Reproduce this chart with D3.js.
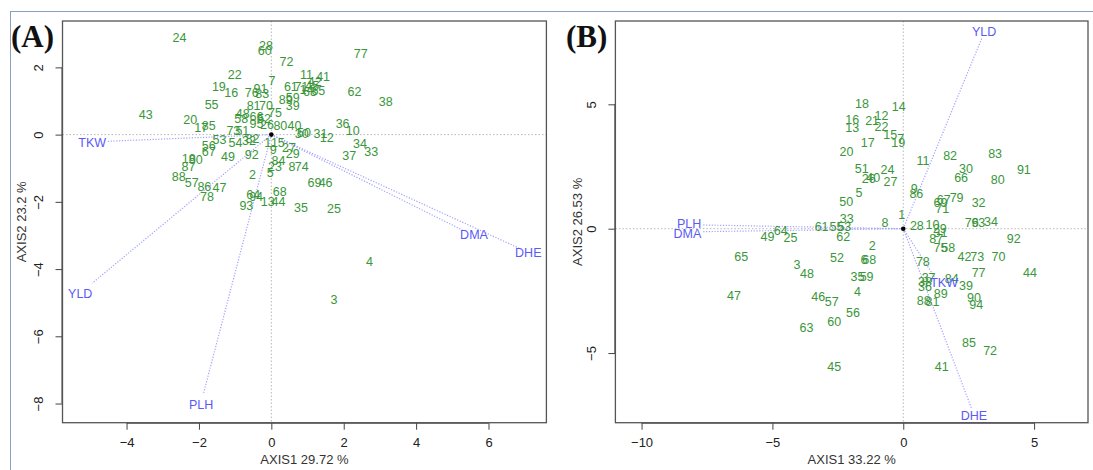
<!DOCTYPE html>
<html><head><meta charset="utf-8">
<script src="https://cdn.jsdelivr.net/npm/d3@7"></script>
<style>body{margin:0;background:#fff}svg{display:block}</style>
</head><body>
<svg id="chart" width="1093" height="470"></svg>
<script>
// ---------- Panel A data ----------
const genoA = ["24","28","60","72","77","22","11","41","7","19","16","76","91","83","61","71","14","42","45","63","65","62","38","55","81","70","89","59","39","75","43","20","17","85","48","58","66","52","95","26","80","40","36","10","30","50","31","12","34","33","37","73","51","53","54","82","32","56","67","49","92","18","90","87","88","57","86","47","78","2","1","15","9","27","29","84","23","5","8","74","69","46","68","64","94","93","13","44","35","25","4","3"];
const axis1A = [-2.54,-0.15,-0.18,0.42,2.47,-1.01,0.97,1.43,0.02,-1.45,-1.11,-0.54,-0.30,-0.25,0.54,0.83,0.97,1.20,1.13,1.07,1.30,2.30,3.16,-1.65,-0.49,-0.15,0.40,0.59,0.59,0.10,-3.47,-2.24,-1.94,-1.73,-0.79,-0.83,-0.41,-0.20,-0.41,-0.12,0.25,0.64,1.97,2.25,0.84,0.90,1.36,1.53,2.45,2.76,2.15,-1.05,-0.80,-1.43,-0.99,-0.52,-0.62,-1.73,-1.73,-1.20,-0.54,-2.28,-2.09,-2.29,-2.56,-2.20,-1.85,-1.43,-1.78,-0.52,-0.10,0.18,0.05,0.49,0.59,0.20,0.10,-0.03,0.57,0.84,1.19,1.50,0.23,-0.50,-0.42,-0.69,-0.10,0.20,0.82,1.73,2.71,1.73];
const axis2A = [2.87,2.64,2.49,2.17,2.40,1.77,1.76,1.71,1.60,1.41,1.23,1.25,1.36,1.21,1.43,1.42,1.32,1.57,1.45,1.26,1.30,1.26,0.97,0.88,0.86,0.86,1.03,1.08,0.85,0.64,0.59,0.44,0.20,0.27,0.62,0.46,0.51,0.46,0.32,0.29,0.26,0.26,0.31,0.11,0.02,0.05,0.02,-0.09,-0.29,-0.51,-0.63,0.10,0.10,-0.16,-0.26,-0.14,-0.20,-0.34,-0.51,-0.68,-0.62,-0.72,-0.76,-0.95,-1.25,-1.43,-1.57,-1.60,-1.87,-1.20,-0.24,-0.26,-0.46,-0.41,-0.57,-0.78,-0.95,-1.15,-0.95,-0.95,-1.43,-1.43,-1.70,-1.80,-1.85,-2.12,-1.99,-1.99,-2.17,-2.22,-3.78,-4.92];
const traitsA = ["TKW","YLD","PLH","DMA","DHE"];
const vecXA = [-4.55,-4.95,-1.87,5.30,6.85];
const vecYA = [-0.20,-4.42,-7.68,-2.85,-3.38];
const labXA = [-4.95,-5.28,-1.94,5.60,7.10];
const labYA = [-0.24,-4.74,-8.05,-2.99,-3.51];
const ticksXA = [-4,-2,0,2,4,6];
const ticksYA = [-8,-6,-4,-2,0,2];
const limXA = [-5.77,7.60];
const limYA = [-8.57,3.38];

// ---------- Panel B data ----------
const genoB = ["18","14","12","21","16","13","22","15","19","7","17","20","11","82","83","30","91","66","80","51","24","26","40","27","5","50","9","86","67","79","69","71","32","1","8","28","10","29","31","87","75","58","76","93","34","92","42","73","70","44","78","77","37","38","36","84","39","89","88","81","90","94","85","72","41","45","63","60","56","46","57","4","35","59","48","3","52","6","68","2","47","65","49","64","25","61","55","53","33","62"];
const axis1B = [-1.58,-0.17,-0.83,-1.19,-1.95,-1.95,-0.83,-0.50,-0.19,-0.10,-1.36,-2.17,0.75,1.79,3.51,2.40,4.61,2.21,3.61,-1.59,-0.60,-1.32,-1.15,-0.49,-1.69,-2.18,0.42,0.50,1.55,2.04,1.42,1.49,2.88,-0.06,-0.70,0.52,1.12,1.40,1.42,1.26,1.42,1.72,2.62,2.87,3.35,4.22,2.34,2.83,3.64,4.84,0.75,2.88,0.97,0.83,0.83,1.85,2.40,1.43,0.78,1.12,2.70,2.79,2.51,3.32,1.47,-2.64,-3.70,-2.64,-1.92,-3.25,-2.73,-1.75,-1.75,-1.40,-3.68,-4.06,-2.53,-1.50,-1.30,-1.19,-6.47,-6.19,-5.19,-4.68,-4.31,-3.12,-2.55,-2.25,-2.16,-2.29];
const axis2B = [5.01,4.88,4.53,4.34,4.37,4.03,4.10,3.77,3.46,3.59,3.43,3.10,2.71,2.94,3.00,2.41,2.36,2.02,1.96,2.39,2.35,1.98,2.02,1.89,1.42,1.09,1.60,1.41,1.16,1.22,1.02,0.80,1.05,0.55,0.24,0.11,0.15,-0.03,-0.17,-0.42,-0.79,-0.79,0.24,0.22,0.28,-0.43,-1.15,-1.15,-1.15,-1.77,-1.35,-1.77,-1.97,-2.15,-2.33,-2.02,-2.31,-2.63,-2.89,-2.93,-2.80,-3.07,-4.61,-4.91,-5.55,-5.55,-4.01,-3.74,-3.40,-2.73,-2.96,-2.53,-1.93,-1.93,-1.82,-1.46,-1.17,-1.26,-1.26,-0.70,-2.71,-1.13,-0.32,-0.09,-0.39,0.08,0.07,0.05,0.40,-0.32];
const traitsB = ["PLH","DMA","YLD","DHE","TKW"];
const vecXB = [-7.66,-7.66,3.00,2.60,1.20];
const vecYB = [0.15,-0.12,7.65,-7.20,-1.95];
const labXB = [-8.18,-8.25,3.09,2.70,1.56];
const labYB = [0.19,-0.22,7.90,-7.53,-2.20];
const ticksXB = [-10,-5,0,5];
const ticksYB = [-5,0,5];
const limXB = [-11.0,7.06];
const limYB = [-7.8,8.35];

// ---------- drawing ----------
const svg = d3.select("#chart");
const FONT = "'Liberation Sans', Arial, sans-serif";
const GREEN = "#3a963a";
const BLUE = "#5a5af5";
const VEC = "#a0a0ff";

// figure frame lines
svg.append("line").attr("x1",10).attr("x2",1093).attr("y1",11.5).attr("y2",11.5).attr("stroke","#8aa0c0").attr("stroke-width",1);
svg.append("line").attr("x1",10.5).attr("x2",10.5).attr("y1",11).attr("y2",470).attr("stroke","#8aa0c0").attr("stroke-width",1);

function panel(o){
  const g = svg.append("g");
  const x = d3.scaleLinear().domain(o.limX).range([o.left,o.right]);
  const y = d3.scaleLinear().domain(o.limY).range([o.bottom,o.top]);
  // zero reference lines
  g.append("line").attr("x1",x(0)).attr("x2",x(0)).attr("y1",o.top).attr("y2",o.bottom)
    .attr("stroke","#b8b8b8").attr("stroke-dasharray","1.5,2").attr("stroke-width",1);
  g.append("line").attr("x1",o.left).attr("x2",o.right).attr("y1",y(0)).attr("y2",y(0))
    .attr("stroke","#b8b8b8").attr("stroke-dasharray","1.5,2").attr("stroke-width",1);
  // axes
  const ax = d3.axisBottom(x).tickValues(o.ticksX).tickSize(7).tickPadding(6).tickFormat(d=>d<0?"\u2212"+Math.abs(d):d);
  const gx = g.append("g").attr("transform",`translate(0,${o.bottom})`).call(ax);
  gx.select(".domain").attr("d",`M${x(o.ticksX[0])},0.5H${x(o.ticksX[o.ticksX.length-1])}`).attr("stroke","#444");
  gx.selectAll(".tick line").attr("stroke","#444");
  gx.selectAll(".tick text").attr("font-family",FONT).attr("font-size",13).attr("fill","#222").attr("dy","0.9em");
  const ay = d3.axisLeft(y).tickValues(o.ticksY).tickSize(7).tickPadding(0).tickFormat(d=>d<0?"\u2212"+Math.abs(d):d);
  const gy = g.append("g").attr("transform",`translate(${o.left},0)`).call(ay);
  gy.select(".domain").attr("d",`M-0.5,${y(o.ticksY[0])}V${y(o.ticksY[o.ticksY.length-1])}`).attr("stroke","#444");
  gy.selectAll(".tick line").attr("stroke","#444");
  gy.selectAll(".tick text").attr("font-family",FONT).attr("font-size",13).attr("fill","#222")
    .attr("x",null).attr("dy",null).attr("text-anchor","middle")
    .attr("transform","translate(-24,0) rotate(-90)").attr("dominant-baseline","central");
  // box
  g.append("rect").attr("x",o.left).attr("y",o.top).attr("width",o.right-o.left).attr("height",o.bottom-o.top)
    .attr("fill","none").attr("stroke","#555").attr("stroke-width",1.3);
  // axis titles
  g.append("text").attr("x",(o.left+o.right)/2).attr("y",o.bottom+41).attr("text-anchor","middle")
    .attr("font-family",FONT).attr("font-size",13).attr("fill","#333").text(o.xTitle);
  g.append("text").attr("transform",`translate(${o.left-o.yTitleOff},${(o.top+o.bottom)/2}) rotate(-90)`)
    .attr("text-anchor","middle").attr("dominant-baseline","central")
    .attr("font-family",FONT).attr("font-size",13).attr("fill","#333").text(o.yTitle);
  // trait vectors
  o.traits.forEach((t,i)=>{
    g.append("line").attr("x1",x(0)).attr("y1",y(0)).attr("x2",x(o.vx[i])).attr("y2",y(o.vy[i]))
      .attr("stroke",VEC).attr("stroke-width",1.2).attr("stroke-dasharray","1.2,1.6");
  });
  // genotype labels
  g.selectAll("text.geno").data(o.geno).enter().append("text").attr("class","geno")
    .attr("x",(d,i)=>x(o.gx[i])).attr("y",(d,i)=>y(o.gy[i]))
    .attr("text-anchor","middle").attr("dominant-baseline","central")
    .attr("font-family",FONT).attr("font-size",12.5).attr("fill",GREEN).text(d=>d);
  // trait labels
  o.traits.forEach((t,i)=>{
    g.append("text").attr("x",x(o.lx[i])).attr("y",y(o.ly[i])).attr("text-anchor","middle")
      .attr("dominant-baseline","central").attr("font-family",FONT).attr("font-size",12.5)
      .attr("fill",BLUE).text(t);
  });
  // origin dot
  g.append("circle").attr("cx",x(0)).attr("cy",y(0)).attr("r",2.3).attr("fill","#000");
  // panel letter
  g.append("text").attr("x",o.letterX).attr("y",47).attr("font-family","'Liberation Serif','Times New Roman',serif")
    .attr("font-weight","bold").attr("font-size",31).attr("fill","#111").text(o.letter);
}

panel({left:62.5,right:546.4,top:21,bottom:422.7,limX:limXA,limY:limYA,ticksX:ticksXA,ticksY:ticksYA,
  xTitle:"AXIS1 29.72 %",yTitle:"AXIS2 23.2 %",yTitleOff:41,
  geno:genoA,gx:axis1A,gy:axis2A,traits:traitsA,vx:vecXA,vy:vecYA,lx:labXA,ly:labYA,letter:"(A)",letterX:11});
panel({left:615.4,right:1088,top:21,bottom:422.7,limX:limXB,limY:limYB,ticksX:ticksXB,ticksY:ticksYB,
  xTitle:"AXIS1 33.22 %",yTitle:"AXIS2 26.53 %",yTitleOff:38,
  geno:genoB,gx:axis1B,gy:axis2B,traits:traitsB,vx:vecXB,vy:vecYB,lx:labXB,ly:labYB,letter:"(B)",letterX:566});
</script>
</body></html>
